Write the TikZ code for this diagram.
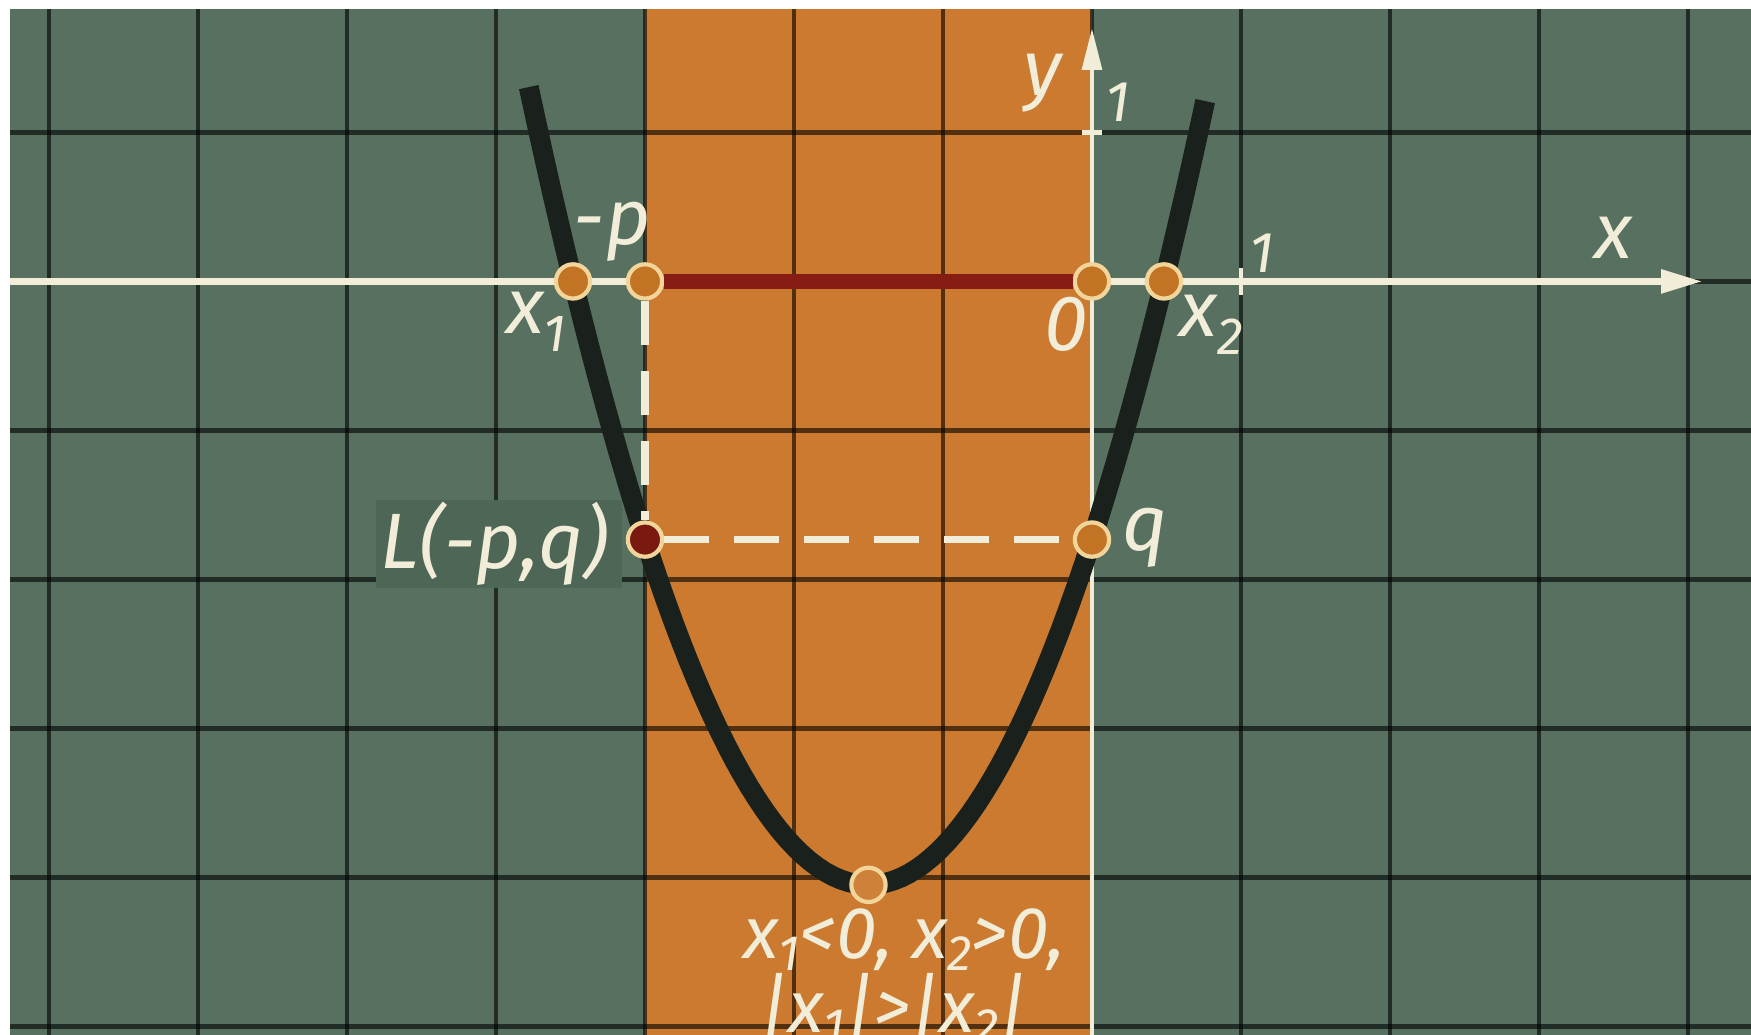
\documentclass[tikz,border=0pt]{standalone}
\usepackage{fontspec}
\setsansfont{Fira Sans}
\usetikzlibrary{arrows.meta}
\definecolor{bgg}{HTML}{57705F}
\definecolor{boxg}{HTML}{4E6656}
\definecolor{orng}{HTML}{CB7A2F}
\definecolor{cream}{HTML}{F1EDD8}
\definecolor{dotfill}{HTML}{C27424}
\definecolor{dotline}{HTML}{F2D59A}
\definecolor{darkred}{HTML}{861C14}
\definecolor{curvec}{HTML}{1A211C}
\newcommand\lsub[1]{\raisebox{-0.45ex}{\fontsize{10}{11}\selectfont #1}}
\newcommand\bsub[1]{\raisebox{-0.3ex}{\fontsize{9.5}{10}\selectfont #1}}
\begin{document}
\begin{tikzpicture}[
  gridl/.style={black, opacity=0.6, line width=0.8pt},
  xaxisl/.style={cream, line width=1.4pt, -{Triangle[length=0.28cm,width=0.15cm]}},
  yaxisl/.style={cream, line width=0.9pt, -{Triangle[length=0.28cm,width=0.13cm]}},
  curvel/.style={curvec, line width=3.8pt},
  ptdot/.style={circle, minimum size=0.23cm, inner sep=0pt, draw=dotline, line width=0.8pt, fill=dotfill},
  lbl/.style={text=cream, font=\sffamily\itshape\fontsize{15}{17}\selectfont, inner sep=0pt},
  blbl/.style={text=cream, font=\sffamily\itshape\fontsize{14}{15}\selectfont, inner sep=0pt},
  tlbl/.style={text=cream, font=\sffamily\itshape\fontsize{11}{13}\selectfont, inner sep=0pt},
  dashl/.style={cream, line width=1.4pt, dash pattern=on 0.3cm off 0.17cm},
  barl/.style={darkred, line width=3pt}
]
\useasboundingbox (-7.329,-5.057) rectangle (4.423,1.889);
% background
\fill[bgg] (-7.329,-5.057) rectangle (4.423,1.889);
\fill[orng] (-3,-5.057) rectangle (0,1.889);
% grid
\foreach \gx in {-7,...,4} \draw[gridl] (\gx,-5.057) -- (\gx,1.889);
\foreach \gy in {-5,...,1} \draw[gridl] (-7.329,\gy) -- (4.423,\gy);
% label box
\fill[boxg] (-4.805,-1.466) rectangle (-3.154,-2.06);
% white border
\fill[white] (-7.329,1.829) rectangle (4.423,1.889);
\fill[white] (-7.329,-5.057) rectangle (-7.262,1.889);
% axes
\coordinate (xs) at (-7.262,0);
\coordinate (xe) at (4.10,0);
\coordinate (ys) at (0,-5.057);
\coordinate (ye) at (0,1.70);
\draw[xaxisl] (xs) -- (xe);
\draw[yaxisl] (ys) -- (ye);
\draw[cream, line width=0.9pt] (1,-0.09) -- (1,0.09);
\draw[cream, line width=0.9pt] (-0.07,1) -- (0.07,1);
% parabola
\draw[curvel] plot[domain=-3.78:0.76, samples=90] (\x,{1.03*(\x+1.5)*(\x+1.5)-4.05});
% points
\node[ptdot] (x1) at (-3.483,0) {};
\node[ptdot] (mp) at (-3,0) {};
\node[ptdot] (O) at (0,0) {};
\node[ptdot] (x2) at (0.483,0) {};
\node[ptdot, fill=darkred!90!black] (L) at (-3,-1.7325) {};
\node[ptdot] (q) at (0,-1.7325) {};
\node[ptdot, fill=orng!95!white] (V) at (-1.5,-4.05) {};
% connectors
\draw[barl] (mp) -- (O);
\draw[dashl] (mp) -- (L);
\draw[dashl] (L) -- (q);
% labels
\node[lbl] (lx) at (3.50,0.29) {x};
\node[lbl] (ly) at (-0.33,1.33) {y};
\node[tlbl] (l1x) at (1.14,0.19) {1};
\node[tlbl] (l1y) at (0.17,1.20) {1};
\node[lbl] (lmp) at (-3.22,0.33) {-p};
\node[lbl] (lx1) at (-3.73,-0.27) {x\lsub{1}};
\node[lbl] (l0) at (-0.17,-0.29) {0};
\node[lbl] (lx2) at (0.80,-0.29) {x\lsub{2}};
\node[lbl] (lL) at (-4.01,-1.76) {L(-p,q)};
\node[lbl] (lq) at (0.36,-1.72) {q};
\node[blbl] (lc1) at (-1.26,-4.42) {x\bsub{1}<0, x\bsub{2}>0,};
\node[blbl] (lc2) at (-1.33,-4.88) {|x\bsub{1}|>|x\bsub{2}|};
\end{tikzpicture}
\end{document}
